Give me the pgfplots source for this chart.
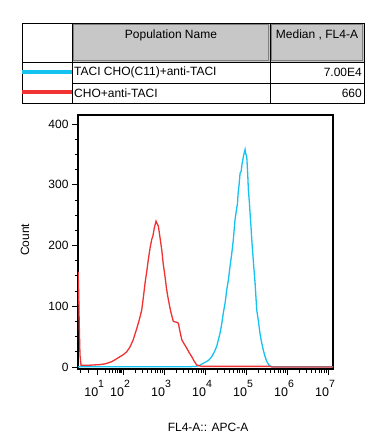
\documentclass[border=0pt]{standalone}
\usepackage{pgfplots}
\pgfplotsset{compat=1.18}
\usepackage{fontspec}
\setmainfont{Liberation Sans}
\definecolor{cblue}{RGB}{20,195,240}
\definecolor{cred}{RGB}{240,50,50}
\newcommand{\dec}[1]{{\fontsize{12.5}{14}\selectfont 10\raisebox{9pt}{\fontsize{10.5}{12}\selectfont #1}}}

\pgfplotstableread{
x y
0.902 0.5
3.634 0.5
3.78 1
3.878 3
3.95 6
4.04 9
4.10 12
4.163 17
4.22 24
4.285 34
4.366 56
4.40 68
4.446 89
4.49 106
4.529 127
4.57 144
4.61 166
4.65 186
4.69 210
4.73 242
4.773 262
4.79 268
4.805 285
4.83 300
4.854 319
4.88 322
4.90 333
4.94 348
4.976 358
4.99 352
5.017 346
5.04 318
5.056 292
5.08 272
5.098 253
5.12 231
5.14 209
5.18 172
5.22 138
5.26 94
5.30 76
5.34 55
5.38 40
5.42 28
5.46 18
5.505 9
5.56 3
5.627 0.5
7.12 0.5
}\blueTable

\pgfplotstableread{
x y
0.905 157
0.92 120
0.93 78
0.95 20
0.975 3
1.0 3
1.2 3
1.44 4
1.55 5
1.65 7
1.73 9
1.83 13
1.927 17
2.0 20
2.09 25
2.17 33
2.25 45
2.31 58
2.373 72
2.42 84
2.456 94
2.50 117
2.537 138
2.58 158
2.617 177
2.66 196
2.70 210
2.73 216
2.763 229
2.805 240
2.83 236
2.861 232
2.90 214
2.944 193
2.98 170
3.024 149
3.06 129
3.105 111
3.16 92
3.227 75
3.29 74
3.349 72
3.39 58
3.432 45
3.49 38
3.554 31
3.61 24
3.676 17
3.74 9
3.80 3
3.92 1
5.585 1
5.63 0
7.12 0
}\redTable

\begin{document}
\begin{tikzpicture}[font=\fontsize{12}{14}\selectfont]
\path[use as bounding box] (0pt,0pt) rectangle (381pt,-447pt);
\fill[white] (0pt,0pt) rectangle (381pt,-447pt);
% table
\fill[black!22] (72pt,-23pt) rectangle (270pt,-62pt);
\fill[black!22] (270pt,-23pt) rectangle (364pt,-62pt);
\draw[black!50, line width=1.5pt] (73.5pt,-24.5pt) rectangle (268.5pt,-60.5pt);
\draw[black!50, line width=1.5pt] (271.5pt,-24.5pt) rectangle (362.5pt,-60.5pt);
\draw[line width=1pt] (22pt,-23pt) rectangle (364pt,-103pt);
\draw[line width=1pt] (72pt,-23pt) -- (72pt,-103pt);
\draw[line width=1pt] (270pt,-23pt) -- (270pt,-103pt);
\draw[line width=1pt] (22pt,-62pt) -- (364pt,-62pt);
\draw[line width=1pt] (72pt,-83pt) -- (364pt,-83pt);
\draw[cblue, line width=4pt] (22pt,-71.5pt) -- (72pt,-71.5pt);
\draw[cred, line width=4pt] (22pt,-91.5pt) -- (72pt,-91.5pt);
\node at (171pt,-35pt) {Population Name};
\node at (317pt,-35pt) {Median , FL4-A};
\node[anchor=west, inner sep=1pt] at (73pt,-72.5pt) {TACI CHO(C11)+anti-TACI};
\node[anchor=east, inner sep=1pt] at (363pt,-72.5pt) {7.00E4};
\node[anchor=west, inner sep=1pt] at (73pt,-93pt) {CHO+anti-TACI};
\node[anchor=east, inner sep=1pt] at (363pt,-93pt) {660};

\begin{axis}[at={(78pt,-369pt)}, anchor=south west, scale only axis,
  width=255pt, height=254pt,
  xmin=0.902, xmax=7.12, ymin=-3.3, ymax=414.8,
  axis line style={line width=1.6pt},
  tick align=outside, xtick pos=bottom, ytick pos=left,
  major tick length=6pt, minor tick length=3.5pt,
  every tick/.style={black, line width=0.8pt},
  xtick={1.37,2,3,4,5,6,7},
  xticklabels={\dec{1},\dec{2},\dec{3},\dec{4},\dec{5},\dec{6},\dec{7}},
  minor xtick={0.95,1.15,1.560,1.670,1.749,1.810,1.860,1.902,1.939,1.971,
    2.301,2.477,2.602,2.699,2.778,2.845,2.903,2.954,
    3.301,3.477,3.602,3.699,3.778,3.845,3.903,3.954,
    4.301,4.477,4.602,4.699,4.778,4.845,4.903,4.954,
    5.301,5.477,5.602,5.699,5.778,5.845,5.903,5.954,
    6.301,6.477,6.602,6.699,6.778,6.845,6.903,6.954},
  ytick={0,100,200,300,400},
  minor ytick={25,50,75,125,150,175,225,250,275,325,350,375},
  yticklabel style={/pgf/number format/assume math mode=true, font=\fontsize{12}{14}\selectfont},
  xticklabel style={xshift=-3pt, yshift=-2pt},
  xlabel={FL4-A:: APC-A}, ylabel={Count},
  every axis x label/.style={at={(axis description cs:0.51,-0.228)}, anchor=center},
  every axis y label/.style={at={(axis description cs:-0.208,0.508)}, rotate=90, anchor=center},
]
\addplot[cblue, line width=1.3pt] table[x=x,y=y] {\blueTable};
\addplot[cred, line width=1.3pt] table[x=x,y=y] {\redTable};
\end{axis}
\end{tikzpicture}
\end{document}
